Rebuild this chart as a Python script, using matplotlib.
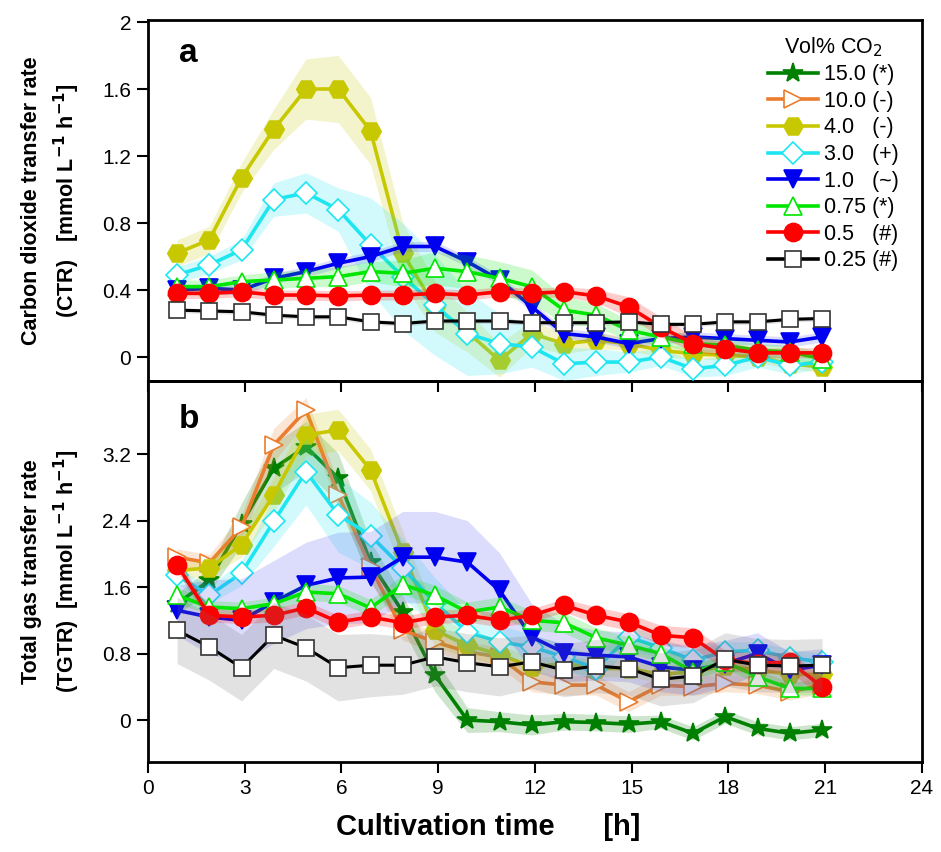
import matplotlib as mpl

mpl.use("Agg")
import matplotlib.pyplot as plt
import numpy as np
from matplotlib.lines import Line2D
from matplotlib.ticker import FuncFormatter

plt.rcParams["font.family"] = ["Liberation Sans", "DejaVu Sans"]

# cultivation time [h]
time_h = [0.9, 1.9, 2.9, 3.9, 4.9, 5.9, 6.9, 7.9, 8.9, 9.9, 10.9,
          11.9, 12.9, 13.9, 14.9, 15.9, 16.9, 17.9, 18.9, 19.9, 20.9]

labels = ["15.0 (*)", "10.0 (-)", "4.0   (-)", "3.0   (+)",
          "1.0   (~)", "0.75 (*)", "0.5   (#)", "0.25 (#)"]

# panel a: CTR mean / spread (no CTR for 15.0 and 10.0)
ctr_mean = {
    "4.0": [0.62, 0.70, 1.07, 1.36, 1.60, 1.60, 1.35, 0.62, 0.30, 0.15, -0.02,
            0.14, 0.08, 0.10, 0.08, 0.04, 0.02, 0.01, 0.0, -0.04, -0.06],
    "3.0": [0.49, 0.55, 0.64, 0.94, 0.98, 0.88, 0.67, 0.48, 0.31, 0.14, 0.08,
            0.06, -0.04, -0.03, -0.03, 0.0, -0.07, -0.05, 0.0, -0.05, -0.03],
    "1.0": [0.40, 0.41, 0.40, 0.47, 0.51, 0.56, 0.60, 0.66, 0.66, 0.57, 0.46,
            0.30, 0.14, 0.12, 0.08, 0.11, 0.12, 0.11, 0.10, 0.09, 0.12],
    "0.75": [0.42, 0.42, 0.45, 0.46, 0.47, 0.48, 0.51, 0.50, 0.53, 0.51, 0.47,
             0.42, 0.28, 0.25, 0.16, 0.12, 0.08, 0.07, 0.04, 0.03, -0.01],
    "0.5": [0.38, 0.38, 0.39, 0.37, 0.37, 0.365, 0.37, 0.37, 0.38, 0.37, 0.39,
            0.38, 0.39, 0.365, 0.30, 0.18, 0.08, 0.05, 0.025, 0.025, 0.025],
    "0.25": [0.28, 0.275, 0.27, 0.25, 0.24, 0.24, 0.21, 0.20, 0.215, 0.215, 0.215,
             0.205, 0.205, 0.205, 0.21, 0.195, 0.195, 0.21, 0.21, 0.225, 0.23],
}
ctr_sd = {
    "4.0": [0.08, 0.08, 0.09, 0.12, 0.18, 0.2, 0.2, 0.18, 0.15, 0.12, 0.1,
            0.08, 0.06, 0.05, 0.04, 0.04, 0.03, 0.03, 0.03, 0.03, 0.03],
    "3.0": [0.05, 0.05, 0.06, 0.1, 0.12, 0.13, 0.28, 0.32, 0.3, 0.25, 0.18,
            0.12, 0.1, 0.08, 0.06, 0.05, 0.05, 0.06, 0.06, 0.05, 0.04],
    "1.0": [0.03, 0.03, 0.03, 0.03, 0.03, 0.03, 0.03, 0.03, 0.03, 0.03, 0.03,
            0.03, 0.03, 0.03, 0.03, 0.03, 0.03, 0.03, 0.03, 0.03, 0.03],
    "0.75": [0.04, 0.04, 0.04, 0.05, 0.05, 0.06, 0.06, 0.08, 0.1, 0.1, 0.1,
             0.1, 0.08, 0.07, 0.06, 0.05, 0.05, 0.04, 0.04, 0.04, 0.04],
    "0.5": [0.03, 0.03, 0.03, 0.03, 0.03, 0.03, 0.03, 0.03, 0.03, 0.03, 0.03,
            0.03, 0.03, 0.04, 0.06, 0.06, 0.05, 0.04, 0.03, 0.03, 0.03],
    "0.25": [0.015] * 21,
}

# panel b: TGTR mean / spread
tgtr_mean = {
    "15.0": [1.40, 1.68, 2.36, 3.03, 3.29, 2.91, 1.90, 1.30, 0.54, 0.0, -0.02,
             -0.06, -0.02, -0.03, -0.05, -0.02, -0.16, 0.04, -0.10, -0.16, -0.12],
    "10.0": [1.96, 1.89, 2.32, 3.31, 3.73, 2.71, 1.84, 1.08, 0.94, 0.82, 0.76,
             0.46, 0.42, 0.42, 0.22, 0.42, 0.40, 0.44, 0.42, 0.34, 0.42],
    "4.0": [1.80, 1.83, 2.11, 2.71, 3.43, 3.49, 3.01, 2.02, 1.08, 0.90, 0.79,
            0.64, 0.68, 0.62, 0.62, 0.55, 0.58, 0.65, 0.60, 0.55, 0.55],
    "3.0": [1.74, 1.50, 1.77, 2.39, 2.99, 2.47, 2.22, 1.83, 1.41, 1.06, 0.94,
            0.88, 0.76, 0.62, 1.0, 0.87, 0.72, 0.82, 0.84, 0.75, 0.70],
    "1.0": [1.32, 1.24, 1.20, 1.42, 1.62, 1.71, 1.72, 1.96, 1.96, 1.90, 1.56,
            1.0, 0.81, 0.78, 0.76, 0.64, 0.60, 0.68, 0.80, 0.60, 0.66],
    "0.75": [1.50, 1.36, 1.34, 1.40, 1.54, 1.52, 1.35, 1.63, 1.50, 1.30, 1.36,
             1.20, 1.17, 0.99, 0.90, 0.80, 0.58, 0.70, 0.52, 0.38, 0.38],
    "0.5": [1.87, 1.26, 1.24, 1.26, 1.35, 1.18, 1.24, 1.17, 1.24, 1.26, 1.20,
            1.26, 1.38, 1.26, 1.18, 1.02, 0.99, 0.72, 0.68, 0.70, 0.40],
    "0.25": [1.08, 0.88, 0.63, 1.02, 0.87, 0.63, 0.66, 0.66, 0.76, 0.69, 0.64,
             0.70, 0.60, 0.65, 0.62, 0.49, 0.53, 0.73, 0.66, 0.65, 0.66],
}
tgtr_sd = {
    "15.0": [0.12, 0.15, 0.25, 0.3, 0.3, 0.3, 0.25, 0.2, 0.2, 0.15, 0.12,
             0.12, 0.1, 0.1, 0.1, 0.08, 0.08, 0.08, 0.08, 0.08, 0.08],
    "10.0": [0.1, 0.1, 0.15, 0.2, 0.15, 0.15, 0.15, 0.12, 0.12, 0.12, 0.12,
             0.12, 0.12, 0.12, 0.12, 0.12, 0.1, 0.1, 0.1, 0.1, 0.1],
    "4.0": [0.1, 0.1, 0.15, 0.2, 0.25, 0.25, 0.25, 0.25, 0.2, 0.15, 0.12,
            0.1, 0.1, 0.1, 0.1, 0.1, 0.1, 0.1, 0.1, 0.1, 0.1],
    "3.0": [0.1, 0.1, 0.15, 0.3, 0.4, 0.45, 0.4, 0.35, 0.3, 0.25, 0.2,
            0.15, 0.15, 0.15, 0.15, 0.12, 0.12, 0.12, 0.1, 0.1, 0.1],
    "1.0": [0.3, 0.45, 0.5, 0.5, 0.52, 0.55, 0.55, 0.55, 0.55, 0.5, 0.45,
            0.4, 0.35, 0.3, 0.3, 0.3, 0.3, 0.28, 0.25, 0.22, 0.2],
    "0.75": [0.1, 0.08, 0.08, 0.08, 0.1, 0.1, 0.1, 0.12, 0.12, 0.12, 0.12,
             0.12, 0.12, 0.12, 0.1, 0.1, 0.1, 0.08, 0.08, 0.08, 0.08],
    "0.5": [0.08, 0.08, 0.08, 0.08, 0.08, 0.08, 0.08, 0.08, 0.08, 0.08, 0.08,
            0.08, 0.08, 0.1, 0.1, 0.12, 0.12, 0.12, 0.12, 0.12, 0.12],
    "0.25": [0.4, 0.4, 0.4, 0.4, 0.4, 0.4, 0.38, 0.35, 0.35, 0.35, 0.35,
             0.32, 0.32, 0.32, 0.32, 0.32, 0.32, 0.32, 0.32, 0.32, 0.32],
}

KEYS = ["15.0", "10.0", "4.0", "3.0", "1.0", "0.75", "0.5", "0.25"]
STYLE = {
    "15.0": dict(color="#008000", marker="*", mfc="#008000", ms=15),
    "10.0": dict(color="#EC7D2E", marker=">", mfc="white", ms=13),
    "4.0": dict(color="#C8C800", marker="H", mfc="#C8C800", ms=14),
    "3.0": dict(color="#1EE6F0", marker="D", mfc="white", ms=11),
    "1.0": dict(color="#0000F0", marker="v", mfc="#0000F0", ms=13),
    "0.75": dict(color="#00E600", marker="^", mfc="white", ms=13),
    "0.5": dict(color="#FF0000", marker="o", mfc="#FF0000", ms=13),
    "0.25": dict(color="#000000", marker="s", mfc="white", ms=11),
}
BAND = {"1.0": "#5050F0", "0.25": "#707070"}


def draw(ax, means, sds):
    t = np.array(time_h)
    for i, k in enumerate(KEYS):
        if k not in means:
            continue
        st = STYLE[k]
        m = np.array(means[k])
        s = np.array(sds[k])
        z = 2 + 2 * i
        ax.fill_between(t, m - s, m + s, color=BAND.get(k, st["color"]),
                        alpha=0.2, lw=0, zorder=z)
        mec = "#333333" if k == "0.25" else st["color"]
        ax.plot(t, m, color=st["color"], lw=2.6 if k != "0.25" else 2.2,
                marker=st["marker"], ms=st["ms"], mfc=st["mfc"], mec=mec,
                mew=1.2, zorder=z + 1)


def style_axis(ax):
    ax.set_xlim(0, 24)
    ax.set_xticks(np.arange(0, 25, 3))
    ax.tick_params(direction="out", length=8, width=1.5, labelsize=15,
                   top=False, right=False, pad=4)
    for sp in ax.spines.values():
        sp.set_linewidth(2.0)
    ax.yaxis.set_major_formatter(FuncFormatter(lambda v, p: f"{v:g}"))


fig = plt.figure(figsize=(9.41, 8.52), dpi=100)
L, Wd = 148 / 941, 774 / 941
ax_b = fig.add_axes([L, 1 - 762 / 852, Wd, 381 / 852])
ax_a = fig.add_axes([L, 1 - 381 / 852, Wd, 361 / 852])
ax_a.patch.set_alpha(0)

draw(ax_a, ctr_mean, ctr_sd)
draw(ax_b, tgtr_mean, tgtr_sd)

style_axis(ax_a)
ax_a.set_ylim(-0.143, 2.012)
ax_a.set_yticks([0, 0.4, 0.8, 1.2, 1.6, 2.0])
ax_a.tick_params(labelbottom=False)

style_axis(ax_b)
ax_b.set_ylim(-0.505, 4.08)
ax_b.set_yticks([0, 0.8, 1.6, 2.4, 3.2])

ax_a.set_ylabel("Carbon dioxide transfer rate\n(CTR)   [mmol L$^{\\mathbf{-1}}$ h$^{\\mathbf{-1}}$]",
                fontsize=15.5, fontweight="bold", linespacing=1.45)
ax_b.set_ylabel("Total gas transfer rate\n(TGTR)  [mmol L$^{\\mathbf{-1}}$ h$^{\\mathbf{-1}}$]",
                fontsize=15.5, fontweight="bold", linespacing=1.45)
ax_a.yaxis.set_label_coords(-0.085, 0.5)
ax_b.yaxis.set_label_coords(-0.085, 0.5)
ax_b.set_xlabel("Cultivation time      [h]", fontsize=21, fontweight="bold")
ax_b.xaxis.set_label_coords(0.44, -0.135)
ax_b.xaxis.label.set_va("top")

ax_a.text(0.04, 0.95, "a", transform=ax_a.transAxes, fontsize=24, fontweight="bold", va="top")
ax_b.text(0.04, 0.94, "b", transform=ax_b.transAxes, fontsize=24, fontweight="bold", va="top")

handles = []
for k, lab in zip(KEYS, labels):
    st = STYLE[k]
    mec = "#333333" if k == "0.25" else st["color"]
    handles.append(Line2D([], [], color=st["color"], lw=2.6, marker=st["marker"],
                          ms=st["ms"], mfc=st["mfc"], mec=mec, mew=1.2, label=lab))
leg = ax_a.legend(handles=handles, title="Vol% CO$_2$", loc="upper right",
                  bbox_to_anchor=(0.99, 1.0), frameon=False, fontsize=15.5,
                  title_fontsize=15.5, handlelength=2.3, handletextpad=0.3,
                  labelspacing=0.26, borderpad=0.2)

fig.savefig("out.png", dpi=100)
